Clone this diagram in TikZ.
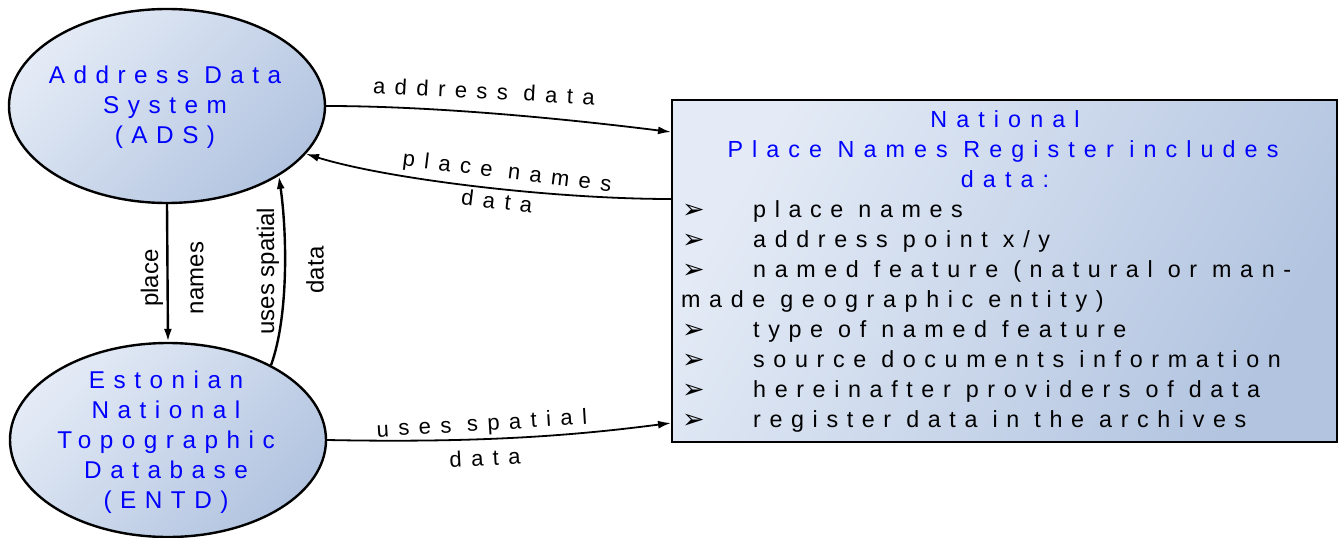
\documentclass[tikz,border=0pt]{standalone}
\usepackage{fontspec}
\setmainfont{Liberation Sans}
\newfontfamily\bluefont[LetterSpace=35]{Liberation Sans}
\newfontfamily\headfont[LetterSpace=39]{Liberation Sans}
\newfontfamily\lblfont[LetterSpace=43]{Liberation Sans}
\newfontfamily\itemfont[LetterSpace=37]{Liberation Sans}
\newfontfamily\bulfont{DejaVu Sans}
\usetikzlibrary{shapes.geometric,arrows.meta}
\definecolor{lite}{RGB}{228,235,246}
\definecolor{dark}{RGB}{178,196,224}
\definecolor{txtblue}{RGB}{0,0,255}
\tikzset{
  ell/.style={ellipse, draw, line width=2.4pt, minimum width=316pt, minimum height=194pt, inner sep=0pt,
    top color=lite, bottom color=dark, shading angle=45},
  regbox/.style={rectangle, draw, line width=2pt, minimum width=665pt, minimum height=342pt, inner sep=0pt,
    top color=lite, bottom color=dark, shading angle=60},
  ellt/.style={font=\bluefont\fontsize{24.3}{30}\selectfont, text=txtblue, anchor=base, inner sep=0pt},
  headt/.style={font=\headfont\fontsize{23.3}{30}\selectfont, text=txtblue, anchor=base, inner sep=0pt},
  lbl/.style={font=\lblfont\fontsize{22}{26}\selectfont, inner sep=0pt},
  vlbl/.style={font=\fontsize{24}{28}\selectfont, rotate=90, inner sep=0pt},
  bul/.style={font=\bulfont\fontsize{27}{30}\selectfont, anchor=base west, inner sep=0pt},
  itm/.style={font=\itemfont\fontsize{23.3}{30}\selectfont, anchor=base west, inner sep=0pt},
  arr/.style={-{Latex[length=13pt,width=8pt]}, line width=1.8pt},
}
\begin{document}
\begin{tikzpicture}[x=1pt,y=-1pt]
\useasboundingbox (0,0) rectangle (1339,538);

% ADS
\node[ell] (ads) at (167,106) {};
\node[ellt] (ads1) at (165,83) {Address Data};
\node[ellt] (ads2) at (165,113) {System};
\node[ellt] (ads3) at (165,143) {(ADS)};

% ENTD
\node[ell] (entd) at (168,440) {};
\node[ellt] (entd1) at (166,388) {Estonian};
\node[ellt] (entd2) at (166,418) {National};
\node[ellt] (entd3) at (166,448) {Topographic};
\node[ellt] (entd4) at (166,478) {Database};
\node[ellt] (entd5) at (166,508) {(ENTD)};

% Register box
\node[regbox] (npr) at (1004.5,271) {};
\node[headt] (h1) at (1005,127.5) {National};
\node[headt] (h2) at (1003,157.5) {Place Names Register includes};
\node[headt] (h3) at (1005,187.5) {data:};

\node[bul] (b1) at (682,218) {➢};
\node[itm] (i1) at (753,217.5) {place names};
\node[bul] (b2) at (682,248) {➢};
\node[itm] (i2) at (753,247.5) {address point x/y};
\node[bul] (b3) at (682,278) {➢};
\node[itm] (i3) at (753,277.5) {named feature (natural or man-};
\node[itm] (i3b) at (681,307.5) {made geographic entity)};
\node[bul] (b4) at (682,338) {➢};
\node[itm] (i4) at (753,337.5) {type of named feature};
\node[bul] (b5) at (682,368) {➢};
\node[itm] (i5) at (753,367.5) {source documents information};
\node[bul] (b6) at (682,398) {➢};
\node[itm] (i6) at (753,397.5) {hereinafter providers of data};
\node[bul] (b7) at (682,428) {➢};
\node[itm] (i7) at (753,427.5) {register data in the archives};

% connectors
\draw[arr] (ads.east) .. controls +(100,0) and +(-120,-15) .. ([yshift=-33pt]npr.north west);
\draw[arr] ([yshift=-100pt]npr.north west) .. controls +(-120,0) and +(80,25) .. (ads.-19);
\draw[arr, line width=2.4pt] (ads.south) -- (entd.north);
\draw[arr, line width=2.4pt] (entd.36) .. controls +(18,-50) and +(8,55) .. (ads.-32);
\draw[arr] (entd.east) .. controls +(150,3) and +(-100,13) .. ([yshift=20pt]npr.south west);

% labels
\node[lbl, rotate=-3] (l1) at (484,91) {address data};
\node[lbl, rotate=-7] (l2) at (507,173) {place names};
\node[lbl, rotate=-7] (l3) at (497,201) {data};
\node[lbl, rotate=3.5] (l4) at (482,425) {uses spatial};
\node[lbl, rotate=3] (l5) at (485,458) {data};
\node[vlbl] (l6) at (152,278) {place};
\node[vlbl] (l7) at (197,278) {names};
\node[vlbl] (l8) at (268,271) {uses spatial};
\node[vlbl] (l9) at (315,270) {data};
\end{tikzpicture}
\end{document}
